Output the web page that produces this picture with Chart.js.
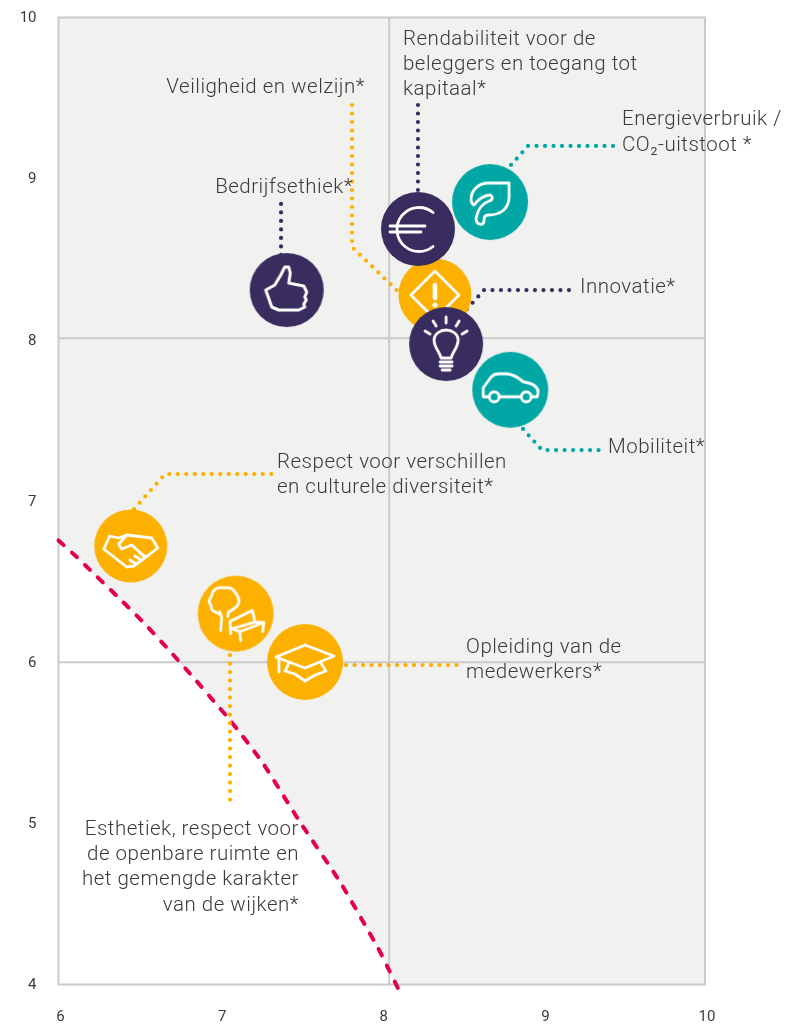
<!DOCTYPE html>
<html lang="nl">
<head>
<meta charset="utf-8">
<title>Materialiteit</title>
<style>
  html, body { margin:0; padding:0; background:#fff; }
  canvas { display:block; }
</style>
<script src="https://cdn.jsdelivr.net/npm/chart.js@4/dist/chart.umd.min.js"></script>
</head>
<body>
<canvas id="chart" width="799" height="1035"></canvas>
<script>
/* axis ticks */
var xTicks = [6, 7, 8, 9, 10];
var yTicks = [4, 5, 6, 7, 8, 9, 10];

/* the bubbles, in draw order */
var topicNames = ['Veiligheid en welzijn', 'Rendabiliteit', 'Energieverbruik', 'Innovatie', 'Mobiliteit', 'Bedrijfsethiek', 'Respect', 'Esthetiek', 'Opleiding'];
var topicX = [8.329, 8.224, 8.670, 8.398, 8.795, 7.412, 6.447, 7.096, 7.525];
var topicY = [8.278, 8.688, 8.855, 7.974, 7.690, 8.309, 6.721, 6.301, 6.001];
var topicIcons = ['warning', 'euro', 'leaf', 'bulb', 'car', 'thumb', 'hands', 'tree', 'cap'];

/* red threshold curve */
var curveX = [6, 6.113, 6.195, 6.362, 6.523, 6.677, 6.832, 6.981, 7.061, 7.259, 7.494, 7.742, 7.977, 8.039, 8.1];
var curveY = [6.755, 6.652, 6.572, 6.410, 6.249, 6.082, 5.908, 5.734, 5.641, 5.381, 5.008, 4.636, 4.226, 4.102, 3.978];

/* quadrant lines */
var quadrantX = [8.046];
var quadrantY = [8.01, 6.0];

/* dotted leaders */
var leaderWarningX = [7.816, 7.816, 8.111], leaderWarningY = [9.457, 8.576, 8.290];
var leaderEuroX = [8.224, 8.224], leaderEuroY = [9.457, 8.860];
var leaderLeafX = [8.800, 8.905, 9.460], leaderLeafY = [9.085, 9.203, 9.203];
var leaderThumbX = [7.377, 7.377], leaderThumbY = [8.843, 8.510];
var leaderBulbX = [8.527, 8.633, 9.189], leaderBulbY = [8.191, 8.309, 8.309];
var leaderCarX = [8.874, 8.991, 9.350], leaderCarY = [7.447, 7.316, 7.316];
var leaderHandsX = [6.467, 6.659, 7.350], leaderHandsY = [6.950, 7.167, 7.167];
var leaderTreeX = [7.061, 7.061], leaderTreeY = [6.044, 5.132];
var leaderCapX = [7.779, 8.480], leaderCapY = [5.982, 5.982];

/* marker on the top edge */
var pointerX = [9.484];
var pointerY = [10.075];

var PURPLE = '#392d5f', TEAL = '#00a7a5', ORANGE = '#fcb000', RED = '#e4004e', GRID = '#cacac8', PANEL = '#f1f1ef', TEXT = '#3a3a3a';

function zip(xs, ys) {
  return xs.map(function(x, i) { return {x:x, y:ys[i]}; });
}

/* paths are relative to the centre of the bubble */
function poly(c, pts, close) {
  c.beginPath();
  pts.forEach(function(p, i) { if(i) c.lineTo(p[0], p[1]); else c.moveTo(p[0], p[1]); });
  if(close) c.closePath();
  c.stroke();
}

/* rounded outline through the midpoints of a list */
function smooth(c, pts) {
  c.beginPath();
  c.moveTo(pts[0][0], pts[0][1]);
  for(var i = 1; i < pts.length - 1; i++) {
    c.quadraticCurveTo(pts[i][0], pts[i][1], (pts[i][0]+pts[i+1][0])/2, (pts[i][1]+pts[i+1][1])/2);
  }
  c.lineTo(pts[pts.length-1][0], pts[pts.length-1][1]);
  c.stroke();
}

var ICONS = {
  warning: {color:ORANGE, r:36.5, draw:function(c) {
    poly(c, [[0,-24],[24,0],[0,24],[-24,0]], true);
    c.lineWidth = 4.6;
    poly(c, [[0,-10],[0,3]]);
    c.beginPath(); c.arc(0,10,2.5,0,Math.PI*2); c.fillStyle='#fff'; c.fill();
  }},
  euro: {color:PURPLE, r:37, draw:function(c) {
    c.beginPath(); c.arc(1,0.5,22,-0.88,0.88,true); c.stroke();
    poly(c, [[-28,-3],[7,-3]]);
    poly(c, [[-28,3],[3,3]]);
  }},
  leaf: {color:TEAL, r:38, draw:function(c) {
    c.beginPath();
    c.moveTo(19,-19);
    c.lineTo(-2,-19);
    c.bezierCurveTo(-11,-19,-19,-12,-19,-3);
    c.bezierCurveTo(-19,1,-17,3,-16,3);
    c.bezierCurveTo(-12,-3,-5,-7,0,-7);
    c.bezierCurveTo(3,-6,3,-2,-1,-1);
    c.bezierCurveTo(-7,1,-12,6,-14,16);
    c.bezierCurveTo(-14,23,-6,25,-6,18);
    c.bezierCurveTo(-6,15,-5,13,-2,13);
    c.bezierCurveTo(10,13,19,7,19,-5);
    c.closePath();
    c.stroke();
  }},
  bulb: {color:PURPLE, r:37, draw:function(c) {
    c.beginPath();
    c.moveTo(-5,14);
    c.bezierCurveTo(-6,8,-12,4,-12,-4);
    c.bezierCurveTo(-12,-10,-6,-14,0,-14);
    c.bezierCurveTo(6,-14,12,-10,12,-4);
    c.bezierCurveTo(12,4,6,8,5,14);
    c.closePath();
    c.stroke();
    poly(c, [[-6,18],[6,18]]);
    poly(c, [[-6,22],[6,22]]);
    poly(c, [[-4,26],[4,26]]);
    poly(c, [[0,-27],[0,-21]]);
    poly(c, [[-13,-23],[-10,-18]]);
    poly(c, [[13,-23],[10,-18]]);
    poly(c, [[-21,-13],[-16,-10]]);
    poly(c, [[21,-13],[16,-10]]);
  }},
  car: {color:TEAL, r:38, draw:function(c) {
    c.beginPath();
    c.moveTo(-21,7);
    c.lineTo(-27,7);
    c.lineTo(-27,-2);
    c.lineTo(-19,-13);
    c.quadraticCurveTo(-16,-16,-12,-16);
    c.lineTo(-3,-16);
    c.quadraticCurveTo(5,-15,13,-8);
    c.quadraticCurveTo(27,-6,28,2);
    c.lineTo(27,7);
    c.lineTo(21,7);
    c.stroke();
    poly(c, [[-11,7],[11,7]]);
    c.beginPath(); c.arc(-16,7,5,0,Math.PI*2); c.stroke();
    c.beginPath(); c.arc(16,7,5,0,Math.PI*2); c.stroke();
  }},
  thumb: {color:PURPLE, r:37, draw:function(c) {
    c.lineWidth = 3;
    poly(c, [[-21,0],[-15,17],[-8,20],[12,20],[18,17],[17,14],[19.5,10],[18,7],[20,2],[17,-4],[2,-7],[3.5,-17],[2,-23],[-2,-23],[-6,-15],[-12,-5]], true);
  }},
  hands: {color:ORANGE, r:36.5, draw:function(c) {
    poly(c, [[-27,3],[-21,-10],[-12,-8],[-4,-11],[21,-8],[27,2],[14,12],[3,20],[-4,21]], true);
    poly(c, [[-4,-11],[-12,-2],[-9,3],[1,-1],[14,11]]);
    poly(c, [[-1,14],[4,17]]);
    poly(c, [[4,10],[9,13]]);
    poly(c, [[9,7],[14,10]]);
  }},
  tree: {color:ORANGE, r:38, draw:function(c) {
    smooth(c, [[-16.7,0],[-24.7,-3.3],[-24,-8],[-27.5,-12.3],[-24,-17],[-23,-23],[-17.3,-26.5],[-10.7,-25.7],[-4,-26],[2,-18.3],[4,-11.7],[1,-6.7],[-5.7,-2.3]]);
    poly(c, [[-16,-2],[-14,4],[-15,17]]);
    poly(c, [[-7,-2],[-8,3]]);
    poly(c, [[-5.7,7.7],[16.7,-3.3],[19.3,8.3]]);
    poly(c, [[-3.5,15],[19.3,8.3],[28,9]]);
    poly(c, [[4,18],[28,9]]);
    poly(c, [[-3.5,15],[4,18]]);
    poly(c, [[-5.7,7.7],[-5,20]]);
    poly(c, [[4,18],[5,27]]);
    poly(c, [[28,9],[27,18]]);
  }},
  cap: {color:ORANGE, r:38, draw:function(c) {
    poly(c, [[-29,-5],[0,-17],[29,-6],[0,6]], true);
    poly(c, [[-26,-4],[-26,10]]);
    poly(c, [[-16,1],[-20,9],[-10,12],[0,19],[10,13],[21,9],[16,1]]);
  }}
};

function iconCanvas(name) {
  var def = ICONS[name];
  var cv = document.createElement('canvas');
  cv.width = 84; cv.height = 84;
  var c = cv.getContext('2d');
  c.fillStyle = def.color;
  c.beginPath(); c.arc(42,42,def.r,0,Math.PI*2); c.fill();
  c.translate(42,42);
  c.strokeStyle = '#fff';
  c.lineWidth = 2.8;
  c.lineCap = 'round';
  c.lineJoin = 'round';
  def.draw(c);
  return cv;
}

function pointerCanvas() {
  var cv = document.createElement('canvas');
  cv.width = 20; cv.height = 30;
  var c = cv.getContext('2d');
  c.fillStyle = '#b9b9ad';
  c.beginPath(); c.moveTo(5,5); c.lineTo(15,5); c.lineTo(10,22); c.closePath(); c.fill();
  return cv;
}

function straight(xs, ys, color) {
  return {type:'line', data:zip(xs, ys), borderColor:color, borderWidth:2, pointRadius:0, clip:false};
}

function dotted(xs, ys, color) {
  return {type:'line', data:zip(xs, ys), borderColor:color, borderWidth:4.2, borderDash:[0,8.5], borderCapStyle:'round', pointRadius:0, clip:false};
}

/* Chart.js draws the first dataset last, so this list runs from top to bottom */
var datasets = [
  {label:'Pointer', data:zip(pointerX, pointerY), pointStyle:pointerCanvas(), pointRadius:10, showLine:false, clip:false},
  {label:'Topics', data:zip(topicX, topicY), pointStyle:topicIcons.map(iconCanvas), pointRadius:38, showLine:false, clip:false},
  dotted(leaderWarningX, leaderWarningY, ORANGE),
  dotted(leaderEuroX, leaderEuroY, PURPLE),
  dotted(leaderLeafX, leaderLeafY, TEAL),
  dotted(leaderThumbX, leaderThumbY, PURPLE),
  dotted(leaderBulbX, leaderBulbY, PURPLE),
  dotted(leaderCarX, leaderCarY, TEAL),
  dotted(leaderHandsX, leaderHandsY, ORANGE),
  dotted(leaderTreeX, leaderTreeY, ORANGE),
  dotted(leaderCapX, leaderCapY, ORANGE),
  {type:'line', data:zip(curveX, curveY), borderColor:RED, borderWidth:4, borderDash:[7,11], borderCapStyle:'round', pointRadius:0, tension:0.2, clip:false},
  straight([6, 10], [quadrantY[1], quadrantY[1]], GRID),
  straight([6, 10], [quadrantY[0], quadrantY[0]], GRID),
  straight([quadrantX[0], quadrantX[0]], [4, 10], GRID),
  /* white area below the curve */
  {type:'line', data:zip(curveX, curveY), borderWidth:0, pointRadius:0, tension:0.2, fill:'start', backgroundColor:'#fff'}
];

/* panel background and frame */
var panelPlugin = {
  id:'panel',
  beforeDraw:function(chart) {
    var a = chart.chartArea, c = chart.ctx;
    c.save();
    c.fillStyle = PANEL;
    c.fillRect(a.left, a.top, a.width, a.height);
    c.restore();
  },
  beforeDatasetDraw:function(chart, args) {
    /* frame goes straight on top of the white fill */
    if(args.index !== chart.data.datasets.length - 2) return;
    var a = chart.chartArea, c = chart.ctx;
    c.save();
    c.strokeStyle = GRID;
    c.lineWidth = 2;
    c.strokeRect(a.left, a.top, a.width, a.height);
    c.restore();
  }
};

/* text blocks, px */
var TEXT_BLOCKS = [
  {lines:['Rendabiliteit voor de','beleggers en toegang tot','kapitaal*'], x:403, y:40, step:25},
  {lines:['Veiligheid en welzijn*'], x:365, y:87.5, align:'right'},
  {lines:['Energieverbruik /','CO\u2082-uitstoot *'], x:622, y:120, step:25.5},
  {lines:['Bedrijfsethiek*'], x:353, y:187.5, align:'right'},
  {lines:['Innovatie*'], x:580, y:287.5},
  {lines:['Mobiliteit*'], x:608, y:448},
  {lines:['Respect voor verschillen','en culturele diversiteit*'], x:277, y:462.5, step:25},
  {lines:['Opleiding van de','medewerkers*'], x:466, y:647.5, step:25.5},
  {lines:['Esthetiek, respect voor','de openbare ruimte en','het gemengde karakter','van de wijken*'], x:299, y:829.5, step:25.3, align:'right'}
];

var textPlugin = {
  id:'blocks',
  afterDraw:function(chart) {
    var c = chart.ctx;
    c.save();
    c.font = '300 20.5px Roboto, "Noto Sans", sans-serif';
    c.letterSpacing = '0.5px';
    c.fillStyle = TEXT;
    c.textBaseline = 'middle';
    TEXT_BLOCKS.forEach(function(b) {
      c.textAlign = b.align || 'left';
      b.lines.forEach(function(t, i) {
        c.fillText(t, b.x, b.y + i * (b.step || 0));
      });
    });
    c.restore();
  }
};

var tickFont = {family:'Roboto, "Noto Sans", sans-serif', size:15, weight:'400'};

new Chart(document.getElementById('chart'), {
  type:'scatter',
  data:{datasets:datasets},
  options:{
    responsive:false,
    animation:false,
    /* big point radius must not push the plot inwards */
    layout:{autoPadding:false, padding:{top:17.5, right:94, left:0, bottom:0}},
    plugins:{legend:{display:false}, tooltip:{enabled:false}},
    scales:{
      x:{
        type:'linear', min:6, max:10,
        grid:{display:false, drawTicks:false},
        border:{display:false},
        afterFit:function(s) { s.height = 50.5; s.paddingLeft = 0; s.paddingRight = 0; },
        afterBuildTicks:function(s) { s.ticks = xTicks.map(function(v){return {value:v};}); },
        ticks:{color:TEXT, font:tickFont, padding:24, labelOffset:2, maxRotation:0, autoSkip:false}
      },
      y:{
        type:'linear', min:4, max:10,
        grid:{display:false, drawTicks:false},
        border:{display:false},
        afterFit:function(s) { s.width = 58.5; s.paddingTop = 0; s.paddingBottom = 0; },
        afterBuildTicks:function(s) { s.ticks = yTicks.map(function(v){return {value:v};}); },
        ticks:{color:TEXT, font:tickFont, padding:22, labelOffset:1, autoSkip:false}
      }
    }
  },
  plugins:[panelPlugin, textPlugin]
});
</script>
</body>
</html>
